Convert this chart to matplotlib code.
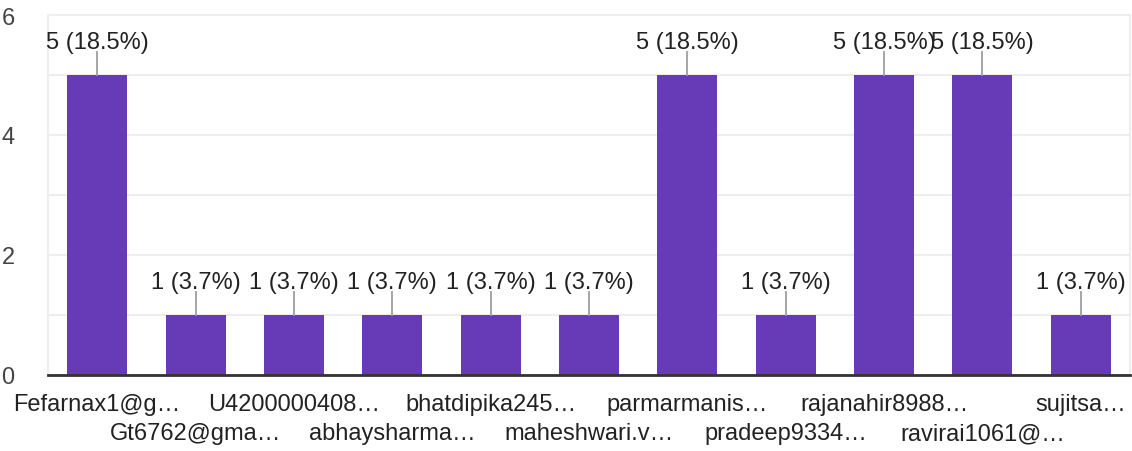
import matplotlib.pyplot as plt
from matplotlib.ticker import MultipleLocator

plt.rcParams['font.family'] = ['Liberation Sans', 'DejaVu Sans']

labels = ['Fefarnax1@g…', 'Gt6762@gma…', 'U4200000408…', 'abhaysharma…',
          'bhatdipika245…', 'maheshwari.v…', 'parmarmanis…', 'pradeep9334…',
          'rajanahir8988…', 'ravirai1061@…', 'sujitsa…']
counts = [5, 1, 1, 1, 1, 1, 5, 1, 5, 5, 1]
pcts = [18.5, 3.7, 3.7, 3.7, 3.7, 3.7, 18.5, 3.7, 18.5, 18.5, 3.7]

fig = plt.figure(figsize=(11.32, 4.52), dpi=100)
ax = fig.add_axes([48 / 1132, 1 - 376 / 452, 1082 / 1132, 360 / 452])

x = list(range(len(counts)))
ax.bar(x, counts, width=0.61, color='#673ab7', zorder=3)

for i, (c, p) in enumerate(zip(counts, pcts)):
    ax.plot([i, i], [c, c + 0.38], color='#9e9e9e', lw=1.3, zorder=3)
    ax.text(i, c + 0.36, f'{c} ({p}%)', ha='center', va='bottom',
            fontsize=17, color='#222222', zorder=4)

ax.set_xlim(-0.5, len(counts) - 0.5)
ax.set_ylim(0, 6)
ax.yaxis.set_major_locator(MultipleLocator(2))
ax.yaxis.set_minor_locator(MultipleLocator(1))
ax.grid(axis='y', which='both', color='#eeeeee', lw=1.5, zorder=0)
ax.set_axisbelow(True)

for s in ['top', 'left', 'right']:
    ax.spines[s].set_color('#eeeeee')
    ax.spines[s].set_linewidth(1.5)
ax.spines['bottom'].set_color('#333333')
ax.spines['bottom'].set_linewidth(2)
ax.spines['bottom'].set_zorder(5)

# two staggered rows of category labels
ax.set_xticks(x[0::2])
ax.set_xticklabels(labels[0::2], fontsize=17, color='#222222')
ax.set_xticks(x[1::2], minor=True)
ax.set_xticklabels(labels[1::2], minor=True, fontsize=17, color='#222222')
ax.tick_params(axis='x', which='major', length=0, pad=13)
ax.tick_params(axis='x', which='minor', length=0, pad=34)
ax.tick_params(axis='y', which='both', length=0, labelsize=17, labelcolor='#444444', pad=24)

fig.savefig('out.png', dpi=100)
